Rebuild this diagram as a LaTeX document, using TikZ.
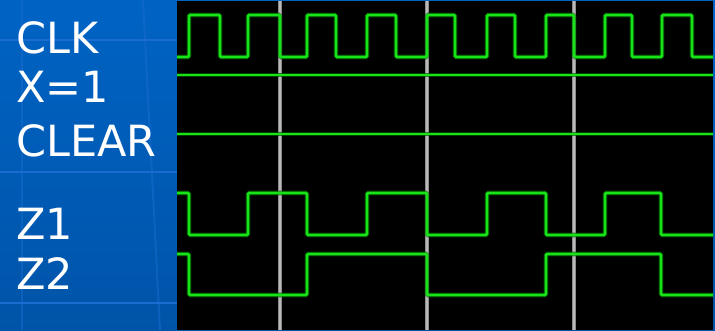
\documentclass[tikz,border=0pt]{standalone}
\usepackage{fontspec}
\setmainfont{DejaVu Sans}
\definecolor{bgtop}{RGB}{0,99,196}
\definecolor{bgbot}{RGB}{0,84,168}
\definecolor{faint}{RGB}{26,108,206}
\definecolor{wave}{RGB}{24,226,24}
\definecolor{glow}{RGB}{0,90,0}
\definecolor{grid}{RGB}{140,140,140}
\definecolor{gridhi}{RGB}{185,185,185}
\tikzset{
  label/.style={anchor=base west, inner sep=0pt, text=white, font=\fontsize{43}{43}\selectfont},
  sig/.style={draw=wave, line width=2.8pt, rounded corners=1.2pt},
  sigglow/.style={draw=glow, line width=4.8pt, rounded corners=1.5pt, opacity=0.7},
  gridline/.style={draw=grid, line width=3.2pt},
  gridcore/.style={draw=gridhi, line width=1.2pt},
  texture/.style={draw=faint, line width=2pt}
}
\begin{document}
\begin{tikzpicture}[x=1pt,y=-1pt]
\useasboundingbox (0,0) rectangle (715,330);
% background
\shade[top color=bgtop, bottom color=bgbot] (0,0) rectangle (715,330);
\draw[texture] (0,40) -- (177,40);
\draw[texture] (0,172) -- (177,172);
\draw[texture] (0,303) -- (177,303);
\draw[texture, opacity=0.5] (22,0) -- (22,330);
\draw[texture, opacity=0.5] (143,0) -- (160,330);
% scope screen
\fill[black] (177,1.3) rectangle (713,330);
% grid lines
\foreach \gx in {280,427,574} {\draw[gridline] (\gx,1.3) -- (\gx,330); \draw[gridcore] (\gx,1.3) -- (\gx,330);}
% labels
\node[label] (lclk) at (16,53) {CLK};
\node[label] (lx) at (16,102.5) {X=1};
\node[label] (lclr) at (16,156) {CLEAR};
\node[label] (lz1) at (16,239) {Z1};
\node[label] (lz2) at (16,289) {Z2};
% waveforms
\foreach \st in {sigglow,sig} {
\path[\st] (177,57) -| (189,15) -| (220,57) -| (248,15) -| (280,57) -| (307,15) -| (336,57) -| (367,15) -| (396,57) -| (427,15) -| (455,57) -| (487,15) -| (515,57) -| (546,15) -| (574,57) -| (605,15) -| (632,57) -| (662,15) -| (692,57) -- (713,57);
\path[\st] (177,75) -- (713,75);
\path[\st] (177,134) -- (713,134);
\path[\st] (177,193) -| (189,235) -| (248,193) -| (307,235) -| (367,193) -| (427,235) -| (487,193) -| (546,235) -| (605,193) -| (661,235) -- (713,235);
\path[\st] (177,254) -| (189,295) -| (307,254) -| (427,295) -| (546,254) -| (661,295) -- (713,295);
}
\end{tikzpicture}
\end{document}
